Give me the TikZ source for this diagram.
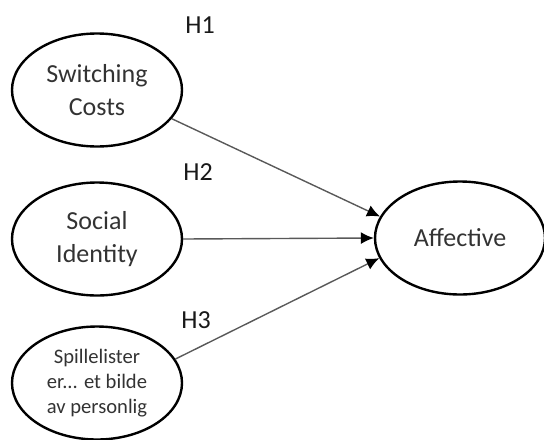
\documentclass[tikz,border=0pt]{standalone}
\usepackage{fontspec}
\setmainfont{Carlito}
\usetikzlibrary{arrows,arrows.meta,positioning,shapes}

\begin{document}
\begin{tikzpicture}[x=0.5pt,y=-0.5pt,
construct/.style={draw=black,line width=1.2pt,ellipse,inner sep=0pt,
  minimum width=85pt,minimum height=56.5pt,align=center,text=black!80,font=\fontsize{13}{16.5}\selectfont},
path/.style={draw=black!65,line width=0.7pt,-{Latex[length=6.5pt,width=6pt,black]}},
hyp/.style={text=black!90,font=\fontsize{13}{15}\selectfont}]
\useasboundingbox (0,0) rectangle (544,439);
\node[construct] (sc) at (97,90) {Switching\\Costs};
\node[construct] (si) at (97,239) {Social\\Identity};
\node[construct,font=\fontsize{10.3}{12.5}\selectfont] (sp) at (97,383) {Spillelister\\er... et bilde\\av personlig};
\node[construct] (aff) at (460,238) {Affective};
\draw[path] (sc.-21)--(aff.165);
\draw[path] (si.east)--(aff.west);
\draw[path] (sp.17)--(aff.194);
\node[hyp] (h1) at (200,25) {H1};
\node[hyp] (h2) at (198,172) {H2};
\node[hyp] (h3) at (196,320) {H3};
\end{tikzpicture}
\end{document}
